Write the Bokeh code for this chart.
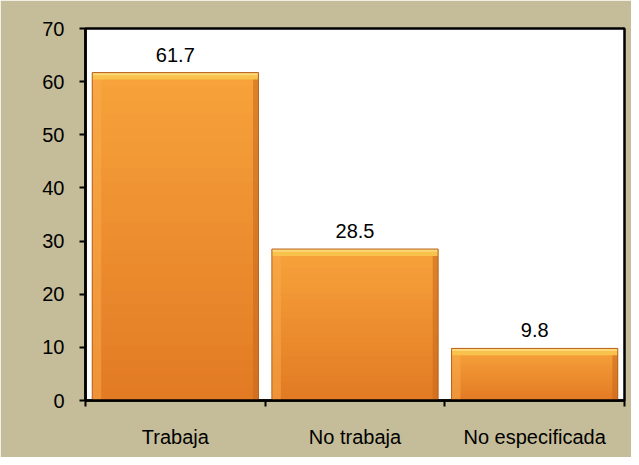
from bokeh.plotting import figure
from bokeh.models import Range1d, FixedTicker, Label
from bokeh.core.properties import value
from bokeh.embed import file_html
from bokeh.resources import INLINE

categories = ["Trabaja", "No trabaja", "No especificada"]
values = [61.7, 28.5, 9.8]
value_labels = ["61.7", "28.5", "9.8"]
y_ticks = [0, 10, 20, 30, 40, 50, 60, 70]

FONT = "Liberation Sans"
TAN = "#C5BD99"

p = figure(width=631, height=457, output_backend="svg", toolbar_location=None,
           x_range=Range1d(0, len(categories)), y_range=Range1d(0, 70),
           min_border_left=85, min_border_right=7, min_border_top=28, min_border_bottom=57)
p.border_fill_color = TAN
p.background_fill_color = "white"
p.outline_line_color = "black"
p.outline_line_width = 2.5
p.xgrid.visible = False
p.ygrid.visible = False

# outer chart-area border (top and left visible, the rest lies outside the window)
p.add_layout(Label(x=1, y=3, x_units="canvas", y_units="canvas", text=" ",
                   text_font_size="1px", anchor="top_left",
                   padding=(0, 800, 600, 0),
                   border_line_color="black", border_line_width=2.5,
                   background_fill_color=None))

xs = [i + 0.5 for i in range(len(categories))]
BW = 0.925

def lerp(c1, c2, t):
    a = [int(c1[i:i + 2], 16) for i in (1, 3, 5)]
    b = [int(c2[i:i + 2], 16) for i in (1, 3, 5)]
    return "#%02x%02x%02x" % tuple(round(a[k] + (b[k] - a[k]) * t) for k in range(3))

# bar body: vertical gradient built from overlapping slices
N = 24
bottom_col, top_col = "#E27B24", "#F7A23B"
for i in range(N):
    t = i / (N - 1)
    p.vbar(x=xs, width=BW,
           bottom=[v * i / N for v in values],
           top=[min(v, v * (i + 2) / N) for v in values],
           fill_color=lerp(bottom_col, top_col, t), line_color=None)

# left lighter stripe and right darker stripe
p.vbar(x=[x - BW / 2 + 0.025 for x in xs], width=0.05, bottom=0, top=values,
       fill_color="#F9AC4E", fill_alpha=0.5, line_color=None)
p.vbar(x=[x + BW / 2 - 0.015 for x in xs], width=0.03, bottom=0, top=values,
       fill_color="#C8681C", fill_alpha=0.55, line_color=None)
# top bevel
p.vbar(x=xs, width=BW, bottom=[v - 1.3 for v in values], top=values,
       fill_color="#F8C24C", line_color=None)
p.vbar(x=xs, width=BW, bottom=[v - 0.5 for v in values], top=values,
       fill_color="#FBD978", line_color=None)
# outline
p.vbar(x=xs, width=BW, bottom=0, top=values, fill_color=None,
       line_color="#B8601C", line_width=1)

p.text(x=xs, y=values, text=value_labels, text_align="center", text_baseline="bottom",
       y_offset=-11, text_font=value(FONT), text_font_size="20px", text_color="black")

# axes
xa = p.xaxis[0]
xa.ticker = FixedTicker(ticks=xs, minor_ticks=list(range(len(categories) + 1)))
xa.major_label_overrides = {x: c for x, c in zip(xs, categories)}
xa.major_tick_out = 0
xa.major_tick_in = 0
xa.minor_tick_out = 6
xa.minor_tick_in = 0
xa.minor_tick_line_color = "black"
xa.minor_tick_line_width = 2
xa.axis_line_color = "black"
xa.axis_line_width = 2.5
xa.major_label_standoff = 19
xa.major_label_text_font = FONT
xa.major_label_text_font_size = "20px"
xa.major_label_text_color = "black"

ya = p.yaxis[0]
ya.ticker = FixedTicker(ticks=y_ticks)
ya.minor_tick_line_color = None
ya.major_tick_out = 6
ya.major_tick_in = 0
ya.major_tick_line_color = "black"
ya.major_tick_line_width = 2
ya.axis_line_color = "black"
ya.axis_line_width = 2.5
ya.major_label_standoff = 15
ya.major_label_text_font = FONT
ya.major_label_text_font_size = "20px"
ya.major_label_text_color = "black"

open("out.html", "w").write(file_html(p, INLINE))
